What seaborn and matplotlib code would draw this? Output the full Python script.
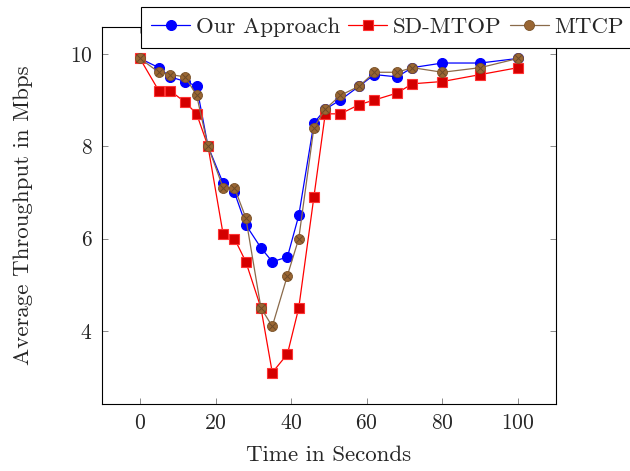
import pandas as pd
import seaborn as sns
import matplotlib.pyplot as plt


# -------------------------------------------------
# DATA
# -------------------------------------------------

time_s = [0, 5, 8, 12, 15, 18, 22, 25, 28, 32, 35, 39, 42, 46, 49, 53, 58, 62, 68, 72, 80, 90, 100]

our_approach = [9.9, 9.7, 9.5, 9.4, 9.3, 8.0, 7.2, 7.0, 6.3, 5.8, 5.5, 5.6, 6.5,
                8.5, 8.8, 9.0, 9.3, 9.55, 9.5, 9.7, 9.8, 9.8, 9.9]
sd_mtop = [9.9, 9.2, 9.2, 8.95, 8.7, 8.0, 6.1, 6.0, 5.5, 4.5, 3.1, 3.5, 4.5,
           6.9, 8.7, 8.7, 8.9, 9.0, 9.15, 9.35, 9.4, 9.55, 9.7]
mtcp = [9.9, 9.6, 9.55, 9.5, 9.1, 8.0, 7.1, 7.1, 6.45, 4.5, 4.1, 5.2, 6.0,
        8.4, 8.8, 9.1, 9.3, 9.6, 9.6, 9.7, 9.6, 9.7, 9.9]

df = pd.DataFrame({"Time": time_s,
                   "Our Approach": our_approach,
                   "SD-MTOP": sd_mtop,
                   "MTCP": mtcp})


# -------------------------------------------------
# STYLE
# -------------------------------------------------

sns.set_style("ticks")
plt.rcParams["font.family"] = ["cmr10", "DejaVu Serif"]
plt.rcParams["mathtext.fontset"] = "cm"
plt.rcParams["axes.formatter.use_mathtext"] = True
plt.rcParams["axes.unicode_minus"] = False

fig = plt.figure(figsize=(6.3, 4.71), dpi=100)
ax = fig.add_axes([0.162, 0.1423, 0.7205, 0.8004])


# -------------------------------------------------
# SERIES
# -------------------------------------------------

sns.lineplot(data=df, x="Time", y="Our Approach", ax=ax, color="blue",
             linewidth=0.9, marker="o", markersize=7.2,
             markerfacecolor="blue", markeredgecolor="blue",
             label="Our Approach", zorder=3)

sns.lineplot(data=df, x="Time", y="SD-MTOP", ax=ax, color="red",
             linewidth=0.9, marker="s", markersize=6.6,
             markerfacecolor="#d40000", markeredgecolor="#ff3333",
             markeredgewidth=0.8, label="SD-MTOP", zorder=4)

sns.lineplot(data=df, x="Time", y="MTCP", ax=ax, color="#8a6a4a",
             linewidth=0.9, marker="o", markersize=7.2,
             markerfacecolor="#996633", markeredgecolor="#7a5229",
             markeredgewidth=0.6, label="MTCP", zorder=5)

# the little cross inside the brown circles (otimes mark)
sns.scatterplot(data=df, x="Time", y="MTCP", ax=ax, marker="x", s=22,
                color="#6b4a2a", linewidth=0.7, zorder=6, legend=False)


# -------------------------------------------------
# AXES
# -------------------------------------------------

ax.set_xlim(-10, 110)
ax.set_ylim(2.42, 10.58)
ax.set_xticks([0, 20, 40, 60, 80, 100])
ax.set_yticks([4, 6, 8, 10])

ax.tick_params(direction="in", top=True, right=True, length=4,
               width=0.6, labelsize=15.5, color="#777777", pad=7)
for s in ax.spines.values():
    s.set_linewidth(0.8)
    s.set_color("black")

ax.set_xlabel("Time in Seconds", fontsize=16.5, labelpad=9)
ax.set_ylabel("Average Throughput in Mbps", fontsize=16.5, labelpad=26)


# -------------------------------------------------
# LEGEND
# -------------------------------------------------

handles, labels = ax.get_legend_handles_labels()
ax.get_legend().remove()
leg = fig.legend(handles, labels, ncol=3, loc="upper left",
                 bbox_to_anchor=(0.224, 0.985), frameon=True, fancybox=False,
                 edgecolor="black", framealpha=1, fontsize=16.5,
                 handlelength=1.7, handletextpad=0.25, columnspacing=0.35,
                 borderpad=0.45, borderaxespad=0)
leg.get_frame().set_linewidth(0.8)

fig.savefig("out.png", dpi=100)
